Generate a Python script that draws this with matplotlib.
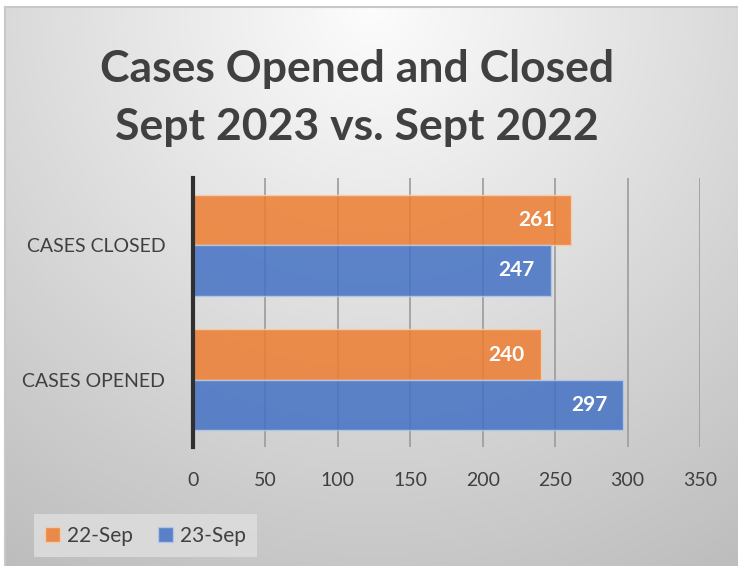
import numpy as np
import matplotlib
matplotlib.use("Agg")
import matplotlib.pyplot as plt

categories = ["CASES OPENED", "CASES CLOSED"]
series_names = ["22-Sep", "23-Sep"]
sep22 = [240, 261]
sep23 = [297, 247]
xticks = [0, 50, 100, 150, 200, 250, 300, 350]
title = "Cases Opened and Closed\nSept 2023 vs. Sept 2022"

FONT = "Lato"
W, H = 738, 566
fig = plt.figure(figsize=(W / 100, H / 100), dpi=100)
fig.patch.set_facecolor("white")

# gradient background
bg = fig.add_axes([5 / W, 0, 1 - 5 / W, 1 - 7 / H], zorder=-10)
ny, nx = 300, 400
yy, xx = np.mgrid[0:ny, 0:nx]
cx, cy = nx * 0.5, 0
r = np.sqrt(((xx - cx) / nx * 1.3) ** 2 + ((yy - cy) / ny) ** 2)
g = np.clip(0.99 - 0.21 * r, 0, 1)
img = np.dstack([g, g, g])
bg.imshow(img, aspect="auto", extent=[0, 1, 0, 1], origin="upper", interpolation="bilinear")
bg.set_xlim(0, 1)
bg.set_ylim(0, 1)
bg.set_xticks([])
bg.set_yticks([])
for s in ["right", "bottom"]:
    bg.spines[s].set_visible(False)
for s in ["left", "top"]:
    bg.spines[s].set_color("#c8c8c8")
    bg.spines[s].set_linewidth(1.5)

ax = fig.add_axes([193 / W, 1 - 447 / H, (700 - 193) / W, (447 - 178) / H])
ax.patch.set_alpha(0)

y = np.arange(len(categories))
h = 0.375
c_orange = "#ED7D31"
c_blue = "#4472C4"
b1 = ax.barh(y + h / 2, sep22, height=h, color=c_orange, alpha=0.85,
             edgecolor="#f5d0b0", linewidth=1.0, label=series_names[0], zorder=3)
b2 = ax.barh(y - h / 2, sep23, height=h, color=c_blue, alpha=0.85,
             edgecolor="#b8c8e8", linewidth=1.0, label=series_names[1], zorder=3)
for bars, vals in ((b1, sep22), (b2, sep23)):
    for rect, v in zip(bars, vals):
        ax.text(v - 11, rect.get_y() + rect.get_height() / 2, str(v), ha="right", va="center",
                color="white", fontsize=15, fontweight="bold", family=FONT, zorder=5)

ax.set_xlim(0, 350)
ax.set_ylim(-0.5, 1.5)
ax.set_xticks(xticks)
ax.set_xticklabels([str(t) for t in xticks], fontsize=14, color="#404040", family=FONT)
ax.set_yticks(y)
ax.set_yticklabels(categories, fontsize=14, color="#404040", family=FONT)
ax.tick_params(axis="x", length=0, pad=18)
ax.tick_params(axis="y", length=0, pad=20)
ax.grid(axis="x", color="#a0a0a0", linewidth=1.3, zorder=1)
for s in ["top", "right", "bottom"]:
    ax.spines[s].set_visible(False)
ax.spines["left"].set_color("#303030")
ax.spines["left"].set_linewidth(3)
ax.spines["left"].set_zorder(4)

fig.text(357 / W, 1 - 98 / H, title, ha="center", va="center", fontsize=32,
         fontweight="bold", color="#404040", family=FONT, linespacing=1.55)

leg = fig.legend(handles=[b1, b2], labels=series_names, loc="lower left",
                 bbox_to_anchor=(34 / W, 1 - 557 / H), borderaxespad=0, ncol=2, frameon=True,
                 prop={"family": FONT, "size": 15}, handlelength=0.7, handleheight=0.7,
                 handletextpad=0.35, columnspacing=1.2, borderpad=0.55, labelcolor="#404040")
leg.get_frame().set_facecolor("#dcdcdc")
leg.get_frame().set_edgecolor("none")
leg.get_frame().set_alpha(0.9)
leg.get_frame().set_boxstyle("square", pad=0)

fig.savefig("out.png", dpi=100)
